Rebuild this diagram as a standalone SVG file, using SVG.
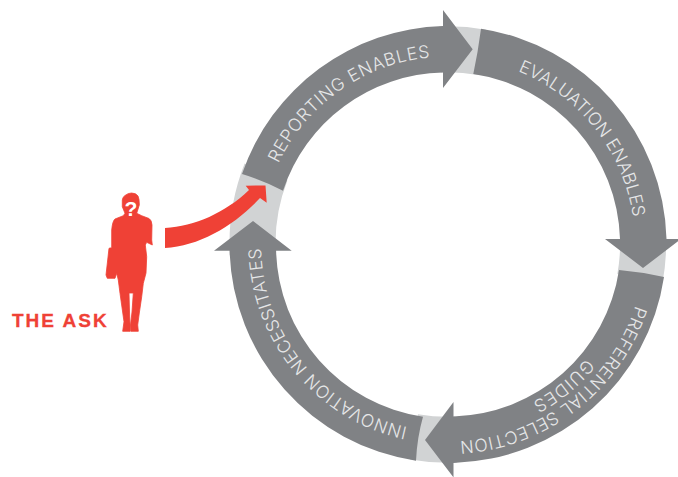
<svg xmlns="http://www.w3.org/2000/svg" width="678" height="477" viewBox="0 0 678 477">
<style>
.seg{fill:#808285}
.gap{fill:none;stroke:#d1d3d4;stroke-width:46}
.lab{font-family:"Inter","Liberation Sans",sans-serif;font-weight:300;font-size:17.5px;fill:#e6e7e8}
.red{fill:#ef4136}
</style>
<defs>
<path id="p1" d="M278.3,163.6 A188,188 0 0 1 441.4,56.6"/>
<path id="p2" d="M518,71.1 A187,187 0 0 1 634.3,228.2"/>
<path id="p3a" d="M635.4,305.4 A197,197 0 0 1 448,441.5"/>
<path id="p3b" d="M586.1,358.4 A179,179 0 0 1 509.2,412.7"/>
<path id="p4" d="M407.5,427.1 A187,187 0 0 1 261.3,234.7"/>
</defs>
<rect width="678" height="477" fill="#ffffff"/>
<g id="gaps">
<path class="gap" d="M440,49.4 A195.25,195.25 0 0 1 482,52.3"/>
<path class="gap" d="M643,235 A195.25,195.25 0 0 1 640,278"/>
<path class="gap" d="M456,439.6 A195.25,195.25 0 0 1 414,436.8"/>
<path class="gap" d="M252.8,254 A195.25,195.25 0 0 1 266,172"/>
</g>
<g id="connectors">
<g id="reporting"><path class="seg" d="M242,174 A218.5,218.5 0 0 1 443,26.1 L443,10 L472.7,49.3 L443,88 L443,72.6 A172,172 0 0 0 283,190.7 Q262,180 242,174Z"/><text class="lab" letter-spacing="0.7"><textPath href="#p1">REPORTING ENABLES</textPath></text></g>
<g id="evaluation"><path class="seg" d="M481,28.7 A218.5,218.5 0 0 1 666.5,239 L681,239 L643,268 L605,239 L620,239 A172,172 0 0 0 473.3,74 Q478,52 481,28.7Z"/><text class="lab" letter-spacing="0.2"><textPath href="#p2">EVALUATION ENABLES</textPath></text></g>
<g id="preferential"><path class="seg" d="M664,277 A218.5,218.5 0 0 1 453.5,462.9 L453.5,477.4 L425,440 L453.5,402 L453.5,416.4 A172,172 0 0 0 619,270 Q642,272 664,277Z"/><text class="lab" letter-spacing="0.4"><textPath href="#p3a">PREFERENTIAL SELECTION</textPath></text><text class="lab" letter-spacing="1"><textPath href="#p3b">GUIDES</textPath></text></g>
<g id="innovation"><path class="seg" d="M416,460.7 A218.5,218.5 0 0 1 229.6,250.7 L214,250.7 L253,221 L291.7,250.7 L276.1,250.7 A172,172 0 0 0 423,416.7 Q417,438 416,460.7Z"/><text class="lab" letter-spacing="0.5"><textPath href="#p4">INNOVATION NECESSITATES</textPath></text></g>
<path id="ask-arrow" class="red" d="M165,228 C195,226 225,213 249,190 L245.7,185.7 L265.5,185.5 L266.7,202.7 L260,198 C235,225 200,246 165,248Z"/>
</g>
<g id="the-ask">
<path class="red" stroke="#ef4136" stroke-width="0.8" stroke-linejoin="round" d="M122.3,200 Q122.5,197 125,195.5 Q128,193 131.5,193 Q136,193 138,196 Q139.5,199 139.3,205 L136.7,213.3 L141.7,215.7 L149,218.5 Q151.7,220 152,225 L151.7,240 L152.3,245 L146.7,242.3 L145.3,245 L146.7,256.7 L146,273 L143.3,283.3 L141.7,296.7 L139.3,313 L137.7,325 L138.3,331.3 L130.7,331.3 L130.5,325 L132,312 L133.3,293 L129,293 L129.5,312 L130,324 L130,331.3 L122.7,331.3 L124,321.7 L120,293.3 L118.3,280 L116.7,273.3 L115,278.3 L107.3,278.3 L106,275 L109,248.3 L111.7,247.7 L111.7,230 Q112.5,221 115,219 L123.3,215.7 L125,213.3 L122.3,206.7Z"/>
<text x="131" y="216" text-anchor="middle" style="font-family:'Liberation Sans',sans-serif;font-weight:700;font-size:21px;fill:#fff">?</text>
<text x="12" y="327" style="font-family:'Liberation Sans',sans-serif;font-weight:700;font-size:19px;letter-spacing:2px;fill:#ef4136;stroke:#ef4136;stroke-width:0.3">THE ASK</text>
</g>
</svg>
